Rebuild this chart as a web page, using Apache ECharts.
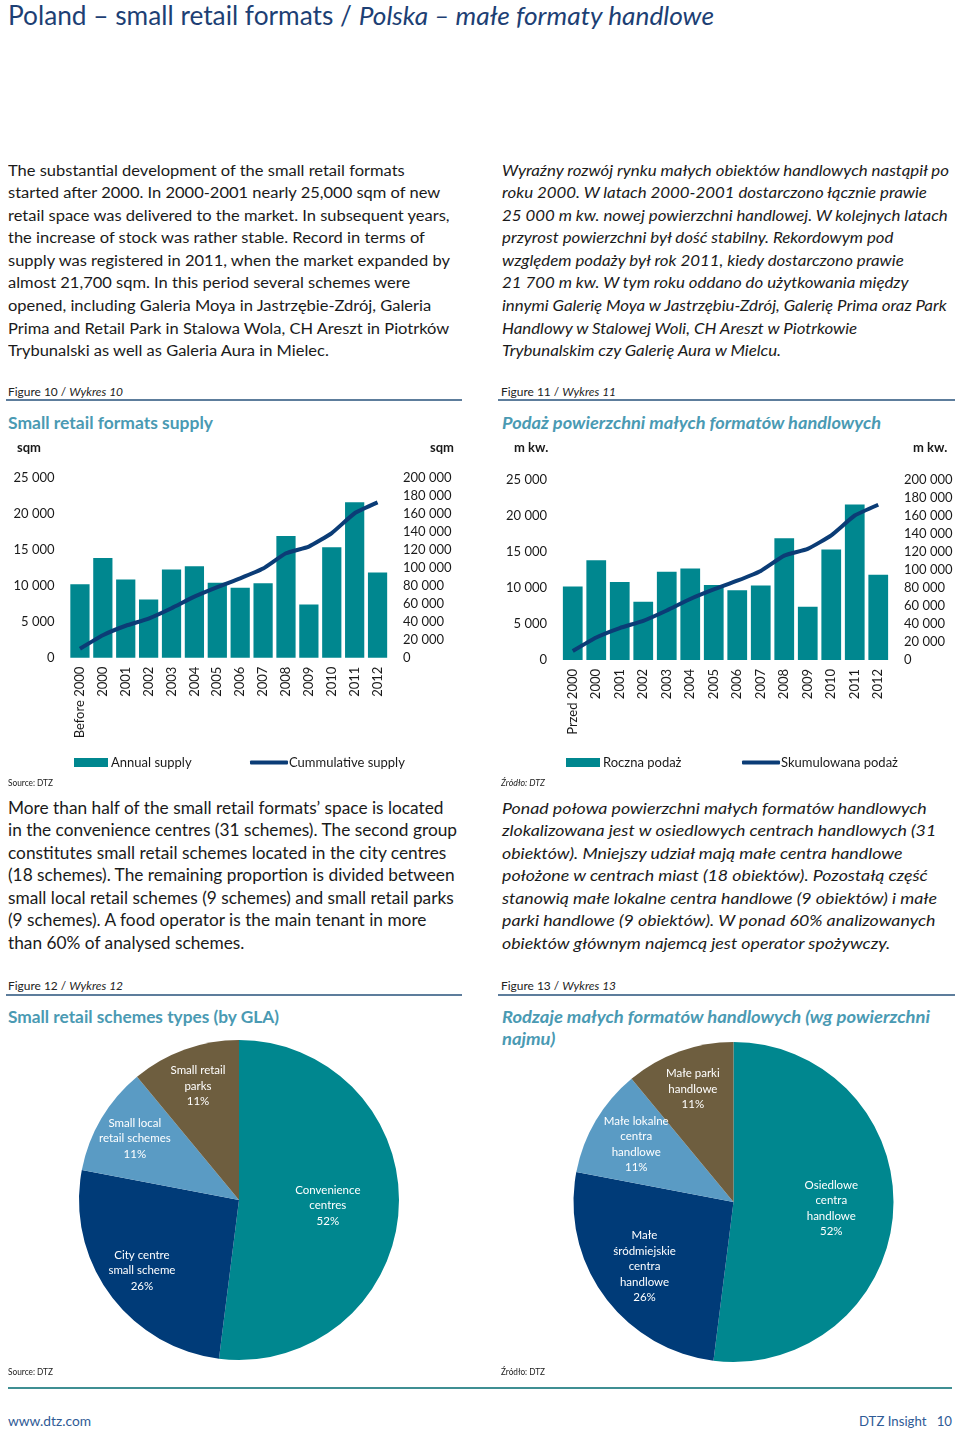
<!DOCTYPE html>
<html><head><meta charset="utf-8">
<script src="https://cdn.jsdelivr.net/npm/echarts@6/dist/echarts.min.js"></script>
<style>
html,body{margin:0;padding:0;}
body{width:960px;height:1436px;background:#fff;position:relative;overflow:hidden;font-family:Lato,"Open Sans",sans-serif;color:#1a1a1a}
.t{position:absolute;white-space:nowrap;transform-origin:0 0;}
.p{font-size:15.5px;line-height:22.6px;}
.pm{font-size:16.3px;line-height:22.6px;}
.i{font-style:italic}
.cap{font-size:12px;line-height:16px;color:#222}
.ct{font-size:17.5px;line-height:22px;font-weight:bold;color:#4a9ab3}
.src{font-size:9px;line-height:12px;color:#222}
.rule{position:absolute;height:1.5px;background:#5d7d9c}
.chart{position:absolute}
</style></head><body>

<div class="t" style="left:8px;top:0px;font-size:26px;line-height:30px;color:#1d3f74" data-w="706">Poland – small retail formats / <span class="i">Polska – małe formaty handlowe</span></div>

<div class="t p" style="left:8px;top:158.5px" data-w="442">The substantial development of the small retail formats<br>started after 2000. In 2000-2001 nearly 25,000 sqm of new<br>retail space was delivered to the market. In subsequent years,<br>the increase of stock was rather stable. Record in terms of<br>supply was registered in 2011, when the market expanded by<br>almost 21,700 sqm. In this period several schemes were<br>opened, including Galeria Moya in Jastrzębie-Zdrój, Galeria<br>Prima and Retail Park in Stalowa Wola, CH Areszt in Piotrków<br>Trybunalski as well as Galeria Aura in Mielec.</div>

<div class="t p i" style="left:502px;top:158.5px" data-w="447">Wyraźny rozwój rynku małych obiektów handlowych nastąpił po<br>roku 2000. W latach 2000-2001 dostarczono łącznie prawie<br>25 000 m kw. nowej powierzchni handlowej. W kolejnych latach<br>przyrost powierzchni był dość stabilny. Rekordowym pod<br>względem podaży był rok 2011, kiedy dostarczono prawie<br>21 700 m kw. W tym roku oddano do użytkowania między<br>innymi Galerię Moya w Jastrzębiu-Zdrój, Galerię Prima oraz Park<br>Handlowy w Stalowej Woli, CH Areszt w Piotrkowie<br>Trybunalskim czy Galerię Aura w Mielcu.</div>

<div class="t cap" style="left:8px;top:384px" data-w="115">Figure 10 / <span class="i">Wykres 10</span></div>
<div class="rule" style="left:6px;top:399px;width:456px"></div>
<div class="t cap" style="left:501px;top:384px" data-w="115">Figure 11 / <span class="i">Wykres 11</span></div>
<div class="rule" style="left:498px;top:399px;width:457px"></div>

<div class="t ct" style="left:8px;top:412px" data-w="205">Small retail formats supply</div>
<div class="t ct i" style="left:502px;top:412px" data-w="379">Podaż powierzchni małych formatów handlowych</div>

<div id="c1" class="chart" style="left:0;top:440px;width:480px;height:340px"></div>
<div id="c2" class="chart" style="left:480px;top:440px;width:480px;height:340px"></div>

<div class="t src" style="left:8px;top:777px" data-w="45">Source: DTZ</div>
<div class="t src i" style="left:501px;top:777px" data-w="44">Źródło: DTZ</div>

<div class="t pm" style="left:8px;top:796.5px" data-w="449">More than half of the small retail formats’ space is located<br>in the convenience centres (31 schemes). The second group<br>constitutes small retail schemes located in the city centres<br>(18 schemes). The remaining proportion is divided between<br>small local retail schemes (9 schemes) and small retail parks<br>(9 schemes). A food operator is the main tenant in more<br>than 60% of analysed schemes.</div>

<div class="t pm i" style="left:502px;top:796.5px" data-w="435">Ponad połowa powierzchni małych formatów handlowych<br>zlokalizowana jest w osiedlowych centrach handlowych (31<br>obiektów). Mniejszy udział mają małe centra handlowe<br>położone w centrach miast (18 obiektów). Pozostałą część<br>stanowią małe lokalne centra handlowe (9 obiektów) i małe<br>parki handlowe (9 obiektów). W ponad 60% analizowanych<br>obiektów głównym najemcą jest operator spożywczy.</div>

<div class="t cap" style="left:8px;top:978px" data-w="115">Figure 12 / <span class="i">Wykres 12</span></div>
<div class="rule" style="left:6px;top:994px;width:456px"></div>
<div class="t cap" style="left:501px;top:978px" data-w="115">Figure 13 / <span class="i">Wykres 13</span></div>
<div class="rule" style="left:498px;top:994px;width:457px"></div>

<div class="t ct" style="left:8px;top:1006px" data-w="271">Small retail schemes types (by GLA)</div>
<div class="t ct i" style="left:502px;top:1006px" data-w="428">Rodzaje małych formatów handlowych (wg powierzchni<br>najmu)</div>

<div id="c3" class="chart" style="left:0;top:1030px;width:480px;height:340px"></div>
<div id="c4" class="chart" style="left:480px;top:1030px;width:480px;height:340px"></div>

<div class="t src" style="left:8px;top:1366px" data-w="45">Source: DTZ</div>
<div class="t src" style="left:501px;top:1366px" data-w="44">Źródło: DTZ</div>
<div style="position:absolute;left:8px;top:1387px;width:944px;height:2px;background:#3f8f93"></div>

<div class="t" style="left:8px;top:1412px;font-size:14px;line-height:18px;color:#2f5b96" data-w="83">www.dtz.com</div>
<div class="t" style="left:859px;top:1412px;font-size:14px;line-height:18px;color:#2f5b96" data-w="93">DTZ Insight&nbsp;&nbsp;&nbsp;10</div>

<script>
// ---------- DATA ----------
const categoriesEN = ['Before 2000','2000','2001','2002','2003','2004','2005','2006','2007','2008','2009','2010','2011','2012'];
const categoriesPL = ['Przed 2000','2000','2001','2002','2003','2004','2005','2006','2007','2008','2009','2010','2011','2012'];
const annualSupply = [10200,13850,10850,8100,12250,12700,10400,9700,10350,16900,7400,15350,21600,11850];
const cumulativeSupply = [10000,25000,35500,43500,55000,67800,78400,88100,99000,116000,123500,138500,160500,172500];
const seriesNamesEN = ['Annual supply','Cummulative supply'];
const seriesNamesPL = ['Roczna podaż','Skumulowana podaż'];
const unitEN = 'sqm';
const unitPL = 'm kw.';
const leftTicks = {min:0, max:25000, interval:5000};
const rightTicks = {min:0, max:200000, interval:20000};

const pieNamesEN = ['Convenience\ncentres','City centre\nsmall scheme','Small local\nretail schemes','Small retail\nparks'];
const pieNamesPL = ['Osiedlowe\ncentra\nhandlowe','Małe\nśródmiejskie\ncentra\nhandlowe','Małe lokalne\ncentra\nhandlowe','Małe parki\nhandlowe'];
const pieShares = [52,26,11,11];

// ---------- STYLE ----------
const TEAL='#00878f', NAVY='#0b3c76', PIE_COLORS=['#00878f','#003b78','#5a9bc4','#6e5e3f'];
const FONT='Lato';
const fmt = v => String(v).replace(/\B(?=(\d{3})+(?!\d))/g,' ');

function barOption(cats, names, unit, g, legendPos, unitPos){
  const lt = {fontSize:13,color:'#1a1a1a',fontFamily:FONT};
  return {
    animation:false,
    textStyle:{fontFamily:FONT},
    title:[
      {text:unit,left:unitPos[0],top:unitPos[2],textStyle:{fontSize:13,fontWeight:'bold',color:'#1a1a1a',fontFamily:FONT},padding:0},
      {text:unit,left:unitPos[1],top:unitPos[2],textStyle:{fontSize:13,fontWeight:'bold',color:'#1a1a1a',fontFamily:FONT},padding:0}
    ],
    legend:[
      {data:[names[0]],left:legendPos[0],top:316,padding:0,itemWidth:34,itemHeight:9,itemGap:0,textStyle:Object.assign({padding:[0,0,0,-2]},lt),icon:'rect'},
      {data:[names[1]],left:legendPos[1],top:316,padding:0,itemWidth:38,itemHeight:4,itemGap:0,textStyle:Object.assign({padding:[0,0,0,-4]},lt),icon:'roundRect'}
    ],
    grid:{left:g.left,top:g.top,width:g.width,height:180,containLabel:false},
    xAxis:{type:'category',data:cats,axisLine:{show:false},axisTick:{show:false},
      axisLabel:{rotate:90,interval:0,fontSize:13,color:'#1a1a1a',margin:9,fontFamily:FONT}},
    yAxis:[
      {type:'value',min:leftTicks.min,max:leftTicks.max,interval:leftTicks.interval,splitLine:{show:false},axisLine:{show:false},axisTick:{show:false},
        axisLabel:{formatter:fmt,fontSize:13,color:'#1a1a1a',margin:14,fontFamily:FONT}},
      {type:'value',min:rightTicks.min,max:rightTicks.max,interval:rightTicks.interval,splitLine:{show:false},axisLine:{show:false},axisTick:{show:false},
        axisLabel:{formatter:fmt,fontSize:13,color:'#1a1a1a',margin:14,fontFamily:FONT}}
    ],
    series:[
      {name:names[0],type:'bar',data:annualSupply,barCategoryGap:'16%',itemStyle:{color:TEAL}},
      {name:names[1],type:'line',yAxisIndex:1,data:cumulativeSupply,symbol:'none',smooth:0.15,lineStyle:{width:4,color:NAVY},itemStyle:{color:NAVY}}
    ]
  };
}

function pieOption(names, center, dists){
  const base = names.map((n,i)=>({name:n,value:pieShares[i],itemStyle:{color:PIE_COLORS[i]}}));
  const lbl = {position:'inside',color:'#fff',fontSize:11.5,lineHeight:15.5,fontFamily:FONT,formatter:p=>p.name+'\n'+p.value+'%'};
  const overlay = (d, idx) => ({type:'pie',radius:[0,2*d],center,silent:true,startAngle:90,clockwise:true,
      label:lbl,labelLine:{show:false},labelLayout:{hideOverlap:false},avoidLabelOverlap:false,emphasis:{disabled:true},
      data:base.map((b,i)=>({name:b.name,value:b.value,itemStyle:{color:'rgba(0,0,0,0)'},label:{show:i===idx}}))});
  return {
    animation:false,
    series:[{type:'pie',radius:160,center,startAngle:90,clockwise:true,silent:true,label:{show:false},labelLine:{show:false},data:base}]
      .concat(dists.map((d,i)=>overlay(d,i)))
  };
}

const c1=echarts.init(document.getElementById('c1'),null,{renderer:'canvas'});
c1.setOption(barOption(categoriesEN,seriesNamesEN,unitEN,{left:68.5,top:37.7,width:320.5},[74,250],[17,430,1]));
const c2=echarts.init(document.getElementById('c2'),null,{renderer:'canvas'});
c2.setOption(barOption(categoriesPL,seriesNamesPL,unitPL,{left:81,top:40,width:329},[86,262],[34,433,1]));
const c3=echarts.init(document.getElementById('c3'));
c3.setOption(pieOption(pieNamesEN,[239,170],[86,117,118,118]));
const c4=echarts.init(document.getElementById('c4'));
c4.setOption(pieOption(pieNamesPL,[253.5,172],[95,107,110,117]));

function fit(){
  document.querySelectorAll('.t[data-w]').forEach(el=>{
    el.style.transform='none';
    const w=el.getBoundingClientRect().width;
    el.style.transform='scaleX('+(parseFloat(el.dataset.w)/w)+')';
  });
}
fit();
if(document.fonts&&document.fonts.ready){document.fonts.ready.then(fit);}
</script>
</body></html>
